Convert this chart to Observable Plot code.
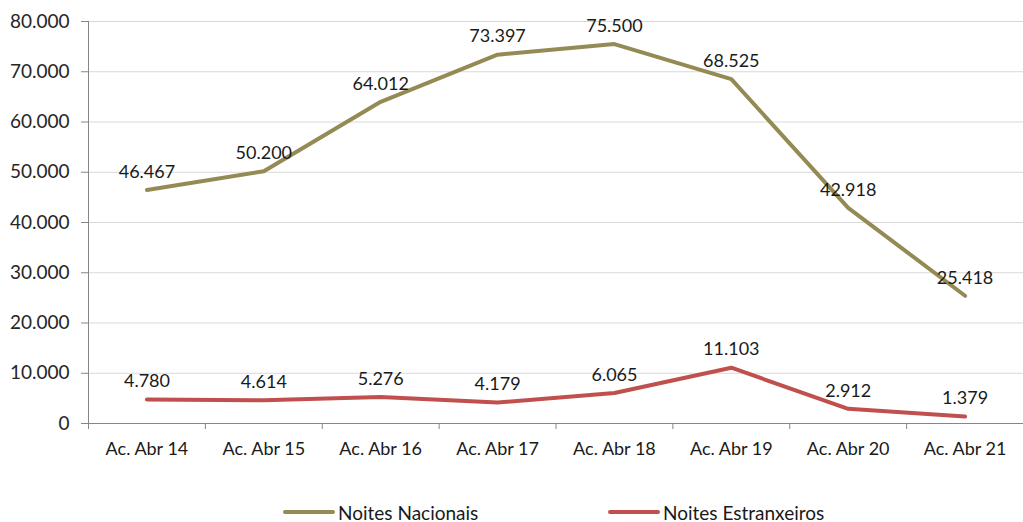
<!DOCTYPE html>
<html>
<head>
<meta charset="utf-8">
<script src="https://cdn.jsdelivr.net/npm/d3@7"></script>
<script src="https://cdn.jsdelivr.net/npm/@observablehq/plot@0.6"></script>
<style>
  html, body { margin: 0; padding: 0; background: #fff; }
  body { width: 1023px; height: 522px; position: relative; font-family: Lato, "Open Sans", sans-serif; }
  #chart { position: absolute; left: 0; top: 0; }
  #legend { position: absolute; left: 0; top: 500px; width: 1023px; height: 24px; font-size: 19px; color: #1a1a1a; }
  .item { position: absolute; display: flex; align-items: center; top: 0; height: 24px; }
  .sw { width: 52px; height: 4px; border-radius: 2px; margin-right: 3px; }
</style>
</head>
<body>
<div id="chart"></div>
<div id="legend"></div>
<script>
const categories = ["Ac. Abr 14", "Ac. Abr 15", "Ac. Abr 16", "Ac. Abr 17", "Ac. Abr 18", "Ac. Abr 19", "Ac. Abr 20", "Ac. Abr 21"];
const nacionais = [46467, 50200, 64012, 73397, 75500, 68525, 42918, 25418];
const estrangeiros = [4780, 4614, 5276, 4179, 6065, 11103, 2912, 1379];
const seriesNames = ["Noites Nacionais", "Noites Estranxeiros"];
const seriesColors = ["#948A54", "#C0504D"];
const yTicks = d3.range(0, 80001, 10000);

const fmt = d => d === 0 ? "0" : d3.format(",")(d).replace(/,/g, ".");

const data = [];
categories.forEach((c, i) => {
  data.push({i, cat: c, series: seriesNames[0], value: nacionais[i]});
  data.push({i, cat: c, series: seriesNames[1], value: estrangeiros[i]});
});

const idx = categories.map((_, i) => i);
const bounds = d3.range(-0.5, categories.length, 1);

const chart = Plot.plot({
  width: 1023,
  height: 470,
  marginLeft: 88,
  marginRight: 0,
  marginTop: 21,
  marginBottom: 47,
  style: {fontFamily: "Lato, 'Open Sans', sans-serif", fontSize: "18px", color: "#1a1a1a", background: "#fff"},
  x: {type: "linear", domain: [-0.5, categories.length - 0.5], axis: null, label: null},
  y: {domain: [0, 80000], axis: null, label: null},
  color: {domain: seriesNames, range: seriesColors},
  marks: [
    Plot.gridY(yTicks, {stroke: "#d9d9d9", strokeOpacity: 1}),
    Plot.axisY({ticks: yTicks, tickFormat: fmt, tickSize: 7, tickPadding: 12, stroke: "#868686", fontSize: 19, color: "#262626", label: null}),
    Plot.ruleX([-0.5], {stroke: "#868686"}),
    Plot.ruleY([0], {stroke: "#868686"}),
    Plot.axisX({ticks: bounds, tickFormat: () => "", tickSize: 6, stroke: "#868686", label: null}),
    Plot.axisX({ticks: idx, tickFormat: i => categories[i], tickSize: 0, tickPadding: 19, fontSize: 18, color: "#1a1a1a", label: null}),
    Plot.line(data, {x: "i", y: "value", z: "series", stroke: "series", strokeWidth: 4, strokeLinecap: "round", strokeLinejoin: "round"}),
    Plot.text(data, {x: "i", y: "value", text: d => fmt(d.value), dy: -18, fontSize: 18, fill: "#1a1a1a"})
  ]
});
document.getElementById("chart").appendChild(chart);

const legend = document.getElementById("legend");
const lefts = [283, 608];
seriesNames.forEach((name, k) => {
  const item = document.createElement("div");
  item.className = "item";
  item.style.left = lefts[k] + "px";
  const sw = document.createElement("div");
  sw.className = "sw";
  sw.style.background = seriesColors[k];
  const t = document.createElement("span");
  t.textContent = name;
  item.appendChild(sw);
  item.appendChild(t);
  legend.appendChild(item);
});
</script>
</body>
</html>
